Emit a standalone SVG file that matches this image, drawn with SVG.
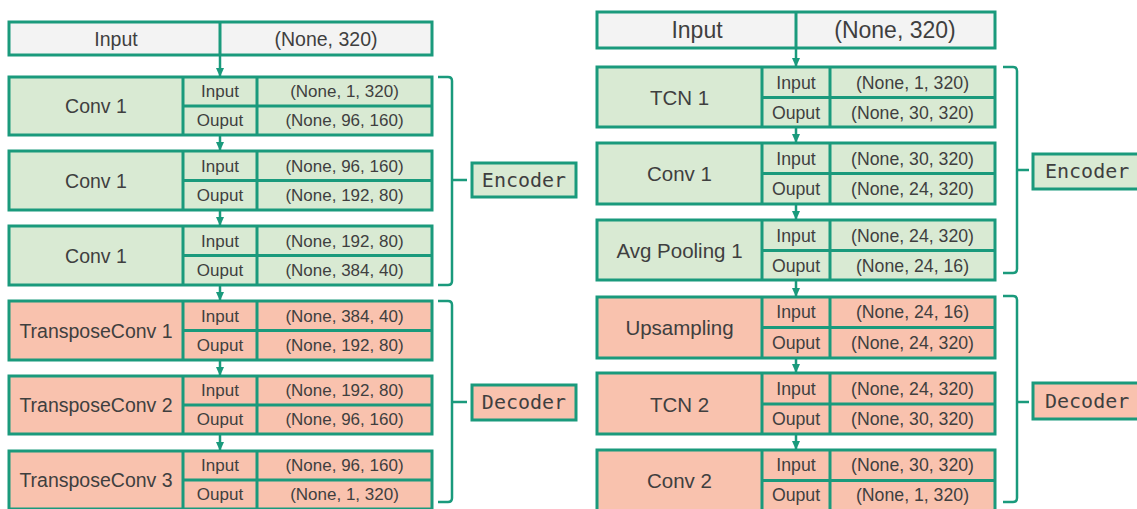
<svg xmlns="http://www.w3.org/2000/svg" width="1137" height="509" viewBox="0 0 1137 509">
<style>
.g{fill:#d9ead3;stroke:#1a9a7c;stroke-width:3}
.r{fill:#f9c2ae;stroke:#1a9a7c;stroke-width:3}
.w{fill:#f3f3f3;stroke:#1a9a7c;stroke-width:3}
.ln{stroke:#1a9a7c;stroke-width:3;fill:none}
.br{stroke:#1a9a7c;stroke-width:2.5;fill:none}
text{font-family:"Liberation Sans",Arial,sans-serif;fill:#3f3f3f;text-anchor:middle;dominant-baseline:central}
.L1{font-size:19.5px}.s1{font-size:17px}
.L2{font-size:20.5px}.T2{font-size:23px}.s2{font-size:17.7px}
.m{font-family:"DejaVu Sans Mono",monospace;font-size:20px}
</style>
<defs>
<marker id="ah" markerUnits="userSpaceOnUse" markerWidth="10" markerHeight="8" refX="9" refY="4" orient="auto">
<path d="M0,0 L9,4 L0,8 Z" fill="#1a9a7c"/>
</marker>
</defs>
<g id="connectors">
<line class="ln" x1="220" y1="55" x2="220" y2="77" marker-end="url(#ah)" style="stroke-width:2.5"/>
<line class="ln" x1="220" y1="135" x2="220" y2="151" marker-end="url(#ah)" style="stroke-width:2.5"/>
<line class="ln" x1="220" y1="210" x2="220" y2="226" marker-end="url(#ah)" style="stroke-width:2.5"/>
<line class="ln" x1="220" y1="285" x2="220" y2="301" marker-end="url(#ah)" style="stroke-width:2.5"/>
<line class="ln" x1="220" y1="360" x2="220" y2="376" marker-end="url(#ah)" style="stroke-width:2.5"/>
<line class="ln" x1="220" y1="434" x2="220" y2="451" marker-end="url(#ah)" style="stroke-width:2.5"/>
<line class="ln" x1="796" y1="48" x2="796" y2="67" marker-end="url(#ah)" style="stroke-width:2.5"/>
<line class="ln" x1="796" y1="127" x2="796" y2="143" marker-end="url(#ah)" style="stroke-width:2.5"/>
<line class="ln" x1="796" y1="204" x2="796" y2="220" marker-end="url(#ah)" style="stroke-width:2.5"/>
<line class="ln" x1="796" y1="280" x2="796" y2="297" marker-end="url(#ah)" style="stroke-width:2.5"/>
<line class="ln" x1="796" y1="358" x2="796" y2="373" marker-end="url(#ah)" style="stroke-width:2.5"/>
<line class="ln" x1="796" y1="434" x2="796" y2="450" marker-end="url(#ah)" style="stroke-width:2.5"/>
<path class="br" d="M438,77 L448,77 Q452,77 452,81 L452,281 Q452,285 448,285 L438,285 M452,180 L467,180"/>
<path class="br" d="M438,301 L448,301 Q452,301 452,305 L452,498 Q452,502 448,502 L438,502 M452,402 L467,402"/>
<path class="br" d="M1003,67 L1013,67 Q1017,67 1017,71 L1017,269 Q1017,273 1013,273 L1003,273 M1017,170 L1029,170"/>
<path class="br" d="M1003,296 L1013,296 Q1017,296 1017,300 L1017,498 Q1017,502 1013,502 L1003,502 M1017,402 L1029,402"/>
</g>
<g id="left-input">
<rect class="w" x="9" y="22" width="423" height="33"/>
<line class="ln" x1="220" y1="22" x2="220" y2="55"/>
<text class="L1" x="116" y="39">Input</text>
<text class="L1" x="326" y="39">(None, 320)</text>
</g>
<g id="left-conv1a">
<rect class="g" x="9" y="77" width="423" height="58"/>
<path class="ln" d="M183,77V135M257,77V135M183,106H432"/>
<text class="L1" x="96" y="106">Conv 1</text>
<text class="s1" x="220" y="91.5">Input</text><text class="s1" x="220" y="120.5">Ouput</text>
<text class="s1" x="344.5" y="91.5">(None, 1, 320)</text><text class="s1" x="344.5" y="120.5">(None, 96, 160)</text>
</g>
<g id="left-conv1b">
<rect class="g" x="9" y="151" width="423" height="59"/>
<path class="ln" d="M183,151V210M257,151V210M183,180.5H432"/>
<text class="L1" x="96" y="180.5">Conv 1</text>
<text class="s1" x="220" y="166">Input</text><text class="s1" x="220" y="195.5">Ouput</text>
<text class="s1" x="344.5" y="166">(None, 96, 160)</text><text class="s1" x="344.5" y="195.5">(None, 192, 80)</text>
</g>
<g id="left-conv1c">
<rect class="g" x="9" y="226" width="423" height="59"/>
<path class="ln" d="M183,226V285M257,226V285M183,255.5H432"/>
<text class="L1" x="96" y="255.5">Conv 1</text>
<text class="s1" x="220" y="241">Input</text><text class="s1" x="220" y="270.5">Ouput</text>
<text class="s1" x="344.5" y="241">(None, 192, 80)</text><text class="s1" x="344.5" y="270.5">(None, 384, 40)</text>
</g>
<g id="left-tconv1">
<rect class="r" x="9" y="301" width="423" height="59"/>
<path class="ln" d="M183,301V360M257,301V360M183,330.5H432"/>
<text class="L1" x="96" y="330.5">TransposeConv 1</text>
<text class="s1" x="220" y="316">Input</text><text class="s1" x="220" y="345.5">Ouput</text>
<text class="s1" x="344.5" y="316">(None, 384, 40)</text><text class="s1" x="344.5" y="345.5">(None, 192, 80)</text>
</g>
<g id="left-tconv2">
<rect class="r" x="9" y="376" width="423" height="58"/>
<path class="ln" d="M183,376V434M257,376V434M183,405H432"/>
<text class="L1" x="96" y="405">TransposeConv 2</text>
<text class="s1" x="220" y="390.5">Input</text><text class="s1" x="220" y="419.5">Ouput</text>
<text class="s1" x="344.5" y="390.5">(None, 192, 80)</text><text class="s1" x="344.5" y="419.5">(None, 96, 160)</text>
</g>
<g id="left-tconv3">
<rect class="r" x="9" y="451" width="423" height="58"/>
<path class="ln" d="M183,451V509M257,451V509M183,480H432"/>
<text class="L1" x="96" y="480">TransposeConv 3</text>
<text class="s1" x="220" y="465.5">Input</text><text class="s1" x="220" y="494.5">Ouput</text>
<text class="s1" x="344.5" y="465.5">(None, 96, 160)</text><text class="s1" x="344.5" y="494.5">(None, 1, 320)</text>
</g>
<g id="left-encoder">
<rect class="g" x="472" y="163" width="104" height="34"/>
<text class="m" x="524" y="180">Encoder</text>
</g>
<g id="left-decoder">
<rect class="r" x="472" y="385" width="104" height="35"/>
<text class="m" x="524" y="402">Decoder</text>
</g>
<g id="right-input">
<rect class="w" x="597" y="12" width="398" height="36"/>
<line class="ln" x1="796" y1="12" x2="796" y2="48"/>
<text class="T2" x="697" y="30">Input</text>
<text class="T2" x="895" y="30">(None, 320)</text>
</g>
<g id="right-tcn1">
<rect class="g" x="597" y="67" width="398" height="60"/>
<path class="ln" d="M762,67V127M830,67V127M762,97.5H995"/>
<text class="L2" x="679.5" y="97">TCN 1</text>
<text class="s2" x="796" y="82.5">Input</text><text class="s2" x="796" y="112.5">Ouput</text>
<text class="s2" x="912.5" y="82.5">(None, 1, 320)</text><text class="s2" x="912.5" y="112.5">(None, 30, 320)</text>
</g>
<g id="right-conv1">
<rect class="g" x="597" y="143" width="398" height="61"/>
<path class="ln" d="M762,143V204M830,143V204M762,173.5H995"/>
<text class="L2" x="679.5" y="173.5">Conv 1</text>
<text class="s2" x="796" y="158.5">Input</text><text class="s2" x="796" y="189">Ouput</text>
<text class="s2" x="912.5" y="158.5">(None, 30, 320)</text><text class="s2" x="912.5" y="189">(None, 24, 320)</text>
</g>
<g id="right-avgpool">
<rect class="g" x="597" y="220" width="398" height="60"/>
<path class="ln" d="M762,220V280M830,220V280M762,250.5H995"/>
<text class="L2" x="679.5" y="250.5">Avg Pooling 1</text>
<text class="s2" x="796" y="235.5">Input</text><text class="s2" x="796" y="265.5">Ouput</text>
<text class="s2" x="912.5" y="235.5">(None, 24, 320)</text><text class="s2" x="912.5" y="265.5">(None, 24, 16)</text>
</g>
<g id="right-upsampling">
<rect class="r" x="597" y="297" width="398" height="61"/>
<path class="ln" d="M762,297V358M830,297V358M762,327.5H995"/>
<text class="L2" x="679.5" y="327.5">Upsampling</text>
<text class="s2" x="796" y="312">Input</text><text class="s2" x="796" y="343">Ouput</text>
<text class="s2" x="912.5" y="312">(None, 24, 16)</text><text class="s2" x="912.5" y="343">(None, 24, 320)</text>
</g>
<g id="right-tcn2">
<rect class="r" x="597" y="373" width="398" height="61"/>
<path class="ln" d="M762,373V434M830,373V434M762,404H995"/>
<text class="L2" x="679.5" y="404">TCN 2</text>
<text class="s2" x="796" y="388.5">Input</text><text class="s2" x="796" y="419">Ouput</text>
<text class="s2" x="912.5" y="388.5">(None, 24, 320)</text><text class="s2" x="912.5" y="419">(None, 30, 320)</text>
</g>
<g id="right-conv2">
<rect class="r" x="597" y="450" width="398" height="61"/>
<path class="ln" d="M762,450V511M830,450V511M762,480.5H995"/>
<text class="L2" x="679.5" y="480.5">Conv 2</text>
<text class="s2" x="796" y="465">Input</text><text class="s2" x="796" y="495">Ouput</text>
<text class="s2" x="912.5" y="465">(None, 30, 320)</text><text class="s2" x="912.5" y="495">(None, 1, 320)</text>
</g>
<g id="right-encoder">
<rect class="g" x="1033" y="154" width="110" height="35"/>
<text class="m" x="1089" y="171" style="text-anchor:start" dx="-44">Encoder</text>
</g>
<g id="right-decoder">
<rect class="r" x="1033" y="383" width="110" height="36"/>
<text class="m" x="1045" y="401" style="text-anchor:start">Decoder</text>
</g>
</svg>
